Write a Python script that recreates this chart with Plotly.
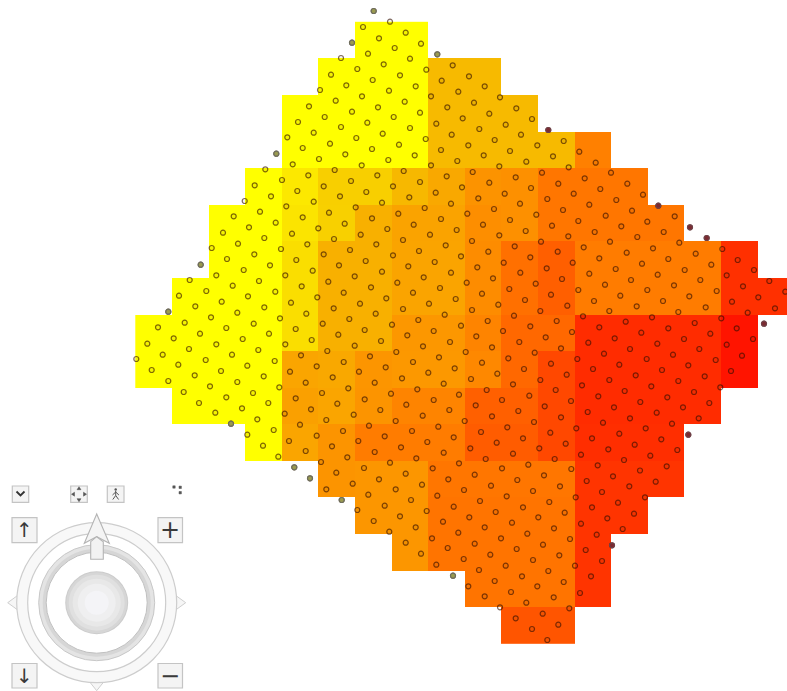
import plotly.graph_objects as go

N = None
Y = 255
col_centers = [153.6 + 36.6 * i for i in range(18)]
row_centers = [40.1 + 36.6 * i for i in range(17)]

shade_rows = [
    [N,N,N,N,N,N,Y,Y,N,N,N,N,N,N,N,N,N,N],
    [N,N,N,N,N,Y,Y,Y,186,186,N,N,N,N,N,N,N,N],
    [N,N,N,N,Y,Y,Y,Y,186,186,186,N,N,N,N,N,N,N],
    [N,N,N,N,Y,Y,Y,Y,186,186,186,186,128,N,N,N,N,N],
    [N,N,N,Y,232,207,207,184,168,147,144,118,118,118,N,N,N,N],
    [N,N,Y,Y,228,208,176,163,163,142,144,118,118,118,118,N,N,N],
    [N,N,Y,Y,222,176,176,164,164,140,112,95,124,124,124,124,48,N],
    [N,Y,Y,Y,222,176,176,164,164,140,112,95,124,124,124,124,48,48],
    [Y,Y,Y,Y,222,176,176,151,151,132,104,104,44,44,44,44,20,N],
    [Y,Y,Y,Y,165,168,149,152,152,136,104,72,44,44,44,44,20,N],
    [N,Y,Y,Y,160,165,148,132,132,96,96,72,44,44,44,44,N,N],
    [N,N,N,Y,165,148,124,124,124,92,92,72,46,46,46,N,N,N],
    [N,N,N,N,N,148,150,150,118,118,118,118,52,52,52,N,N,N],
    [N,N,N,N,N,N,150,150,116,116,116,116,52,52,N,N,N,N],
    [N,N,N,N,N,N,N,150,116,116,116,116,52,N,N,N,N,N],
    [N,N,N,N,N,N,N,N,N,116,116,116,52,N,N,N,N,N],
    [N,N,N,N,N,N,N,N,N,N,85,85,N,N,N,N,N,N],
]

sample_points = [
(373.7,11),(390,21.7),(363,27),(405.7,32.7),(379,38.3),(421,43.7),(352,42.7),(394.7,48),(368,53.7),(437.3,54.3),
(341,58),(410,58.7),(383.7,64.3),(452.7,65.3),(357.3,69),(426.3,69.7),(331,74.7),(400,75.3),(372.7,80),(441.7,80.7),
(346.3,85.3),(415.7,86.3),(320,90),(389,90.7),(458.3,91.7),(362,96.3),(431,96.3),(335.7,100.7),(404.7,101.7),(309,106.3),
(378,107.3),(447.3,107.3),(352,111.7),(420,112.7),(324.7,117),(393.7,117),(298,122),(367.3,122.7),(436.3,123.7),(341,127),
(410,128),(313.7,132.7),(382.7,133.7),(451.7,134.7),(287.3,137.3),(356.3,138),(425.7,139),(330,143.7),(399,144.7),(302.7,148),
(372,149),(441,150),(276.3,153.7),(345.3,154.3),(414.7,155.3),(319,159),(388.3,160),(457.3,161),(292.7,164.3),(361.7,165.3),
(431,165.3),(265.3,169.3),(334.7,170),(403.7,171),(308.3,175.3),(377.3,175.3),(446.7,176.3),(282,180),(351,181),(420,182),
(254.7,185.3),(323.7,186.3),(393,186.3),(297.3,191),(366.3,192),(435.7,192.7),(271,196.3),(340,196.3),(409.3,197.3),(244.7,201),
(313.7,201.7),(382,202.7),(451,203.7),(286.3,206.3),(355.7,207.3),(424.7,208),(260,211.7),(329,212.7),(398.3,213.7),(233.7,216.3),
(302.7,217.3),(372,218.3),(441,219),(275.7,222.7),(344.7,223.7),(413.7,224.7),(249,227.3),(318.3,228.3),(387.3,229),(456.7,230),
(469,76.3),(484.7,86.3),(500,97.3),(474,102.7),(516.3,108.3),(489.3,113.7),(462.7,118.3),(532,119),(505.7,124.7),(479.3,129),
(548.3,130),(521,134.7),(494.7,140),(563.7,141),(468.3,145.3),(537.3,145.3),(579.3,151.7),(510,151),(483.7,155.3),(553,156.3),
(526.3,161.7),(595.7,162.7),(499.3,166.3),(568.7,167.3),(472.7,172),(542,172.7),(611,172.7),(515.7,177.3),(584.7,178.3),(489.3,182.7),
(558.3,183.7),(627.3,183.7),(462,187.3),(531,188),(600.3,189),(504.7,193.7),(573.7,193.7),(643,194.7),(478.3,198.3),(547.3,199),
(616.3,200),(520,203.7),(589.3,204.7),(658.3,205.7),(494,209),(563,210),(632,210.7),(467.3,213.7),(536.3,214.7),(605.7,215.7),
(674.7,216.3),(510,220),(578.3,221),(647.3,221.7),(483,224.7),(552,225.7),(621.3,226.3),(690,227.3),
(223,232.7),(292,233.7),(360.7,234.7),(430,234.7),(264.3,238),(334,239),(403,240),(238,243.7),(307.3,244.3),(376.3,244.3),
(445.7,245.3),(211.7,248),(281,249),(350,250),(419,251),(254.3,254.3),(323.7,254.3),(393,255.3),(227,259),(296.3,260),
(365.7,261),(434.7,262),(200.7,264.7),(270,265.3),(339,265.3),(408.3,266.3),(243.7,270),(312.7,270.7),(382,271.7),(451,272.7),
(216.3,275.3),(285.3,275.3),(354.7,276.3),(423.7,277.3),(189.7,280),(259,281),(328.3,281.7),(397.3,282.7),(232.7,285.7),(301.7,286.3),
(371,287.3),(440,288),(206.3,291),(275.3,291.7),(343.7,292.7),(413,292.7),(179,295.7),(248,296.3),(317.3,297.3),(386.3,298.3),
(455.7,299),(221.7,301.7),(291,302.7),(360,303.7),(429,303.7),(195.3,306.3),(264.3,307.3),(333.7,308.3),(403,309),(168.3,311.7),
(237.3,312.7),(306.3,313.7),(375.7,313.7),(444.7,314.7),(211,317.3),(280,318.3),(349.3,319),(418.3,320),(184.7,322.7),(253.7,323.7),
(322.7,323.7),(392,324.7),(158,327.3),(226.3,328),(295.7,329),(364.7,330),(433.7,331),(200,333.7),(269,333.7),(338.3,334.7),
(407.3,335.3),(173.7,338.3),(242.7,339),(311.7,340),(381,341),(450,342),(147.3,343.7),(216.3,344.3),(285.3,344.3),(354.7,345.7),
(423,346.3),(189,349),(258.3,350),(327.3,351),(396.3,352),(162.7,354.7),(232,354.7),(301,355.3),(370,356.3),(439,357.3),
(136.3,359),(205.7,360),(274.7,361),(343.7,362),(413,362),(178.3,364.7),(247.3,365.7),(316.7,366.3),(385.7,367.3),(454.7,368.3),
(151.7,370),(221,371),(290,371.7),(359,371.7),(428.3,372.7),(194.7,375.3),(263.7,376.3),(332.7,377.3),(402,378.3),(168.3,381),
(237.3,382),(305.7,382.7),(374.7,382.7),(443.7,383.7),(210,386.3),(279.3,387.3),(348.3,388.3),(417.3,389.3),(183.7,392),(253,393),
(322,393),(391,393.7),(459,394.7),(226.3,397.3),(295.7,398.3),(364.7,399.3),(433.7,400),(199,403),(268.3,403),(337.3,403.7),
(406.3,404.7),(242,408.3),(311,409.3),(380.3,410),(449.3,410),(215.3,412.7),(284.7,413.7),(353.7,414.7),(422.7,415.7),(257.3,419.3),
(326.3,420),(395.7,421),(231,423.7),(300,424.7),(369,425.7),(438.3,426.7),(273.7,430),(343,431),(412,431),(247.3,434.7),
(316.7,435.7),(384.7,436.3),(453.7,437.3),(289,441),(358.3,441),(427.3,442),(263,445.7),(332,446.3),(401,447.3),(305.7,451),
(374.7,452),(443.7,452.7),(278.3,456.7),(347.3,457.3),(416.3,458.3),(321,462),(390,462.7),(459,463.3),(294.3,467.3),(364,468),(432.7,468.3),
(499.3,235.3),(525.7,231),(568.3,236.3),(594.7,232),(637.3,237),(663.7,232),(706.7,238),(472,241),(541,241.7),(610,241.7),
(679.3,242.7),(514.7,246.3),(583.7,247.3),(653,248.3),(722.3,249),(557.7,251.7),(626.7,252.7),(488.3,251.7),(695.7,253.7),(461,256.3),
(530.3,257.3),(599.3,258.3),(668.3,259),(737.7,260),(503.7,262.7),(572.7,262.7),(642,263.7),(711.3,264.7),(477.3,267.3),(546.7,268.3),
(615.7,269),(684.7,270),(754,270),(520.3,272.7),(589.3,273.7),(657.7,274.7),(726.7,275.3),(493,278.3),(562,279),(631,280),
(700.3,280),(769.3,281),(466.7,282.7),(535.7,283.7),(605,284.7),(674,285.3),(743,286.3),(509.3,289),(578.3,290),(647.3,290),
(716.7,291),(785.3,291.7),(482,293.7),(551,294.7),(620.3,295.7),(689.3,296.3),(758.3,297.3),(525,300),(594,301),(663,301),
(732,301.7),(498.3,304.7),(567.3,305.7),(636.7,306.3),(705.7,307.3),(775,308.3),(472,310),(540.3,311),(609.3,311),(678.3,312),
(747.7,312.7),(514,315.7),(583,316.3),(652,317.3),(721.3,318.3),(487.7,321),(556.7,321),(625.7,321.7),(694.7,323),(764,323.7),
(461,325.7),(530.3,326.3),(599.3,327.3),(668.3,328.3),(736.7,328.3),(503,331),(572,332),(641.3,332.7),(710.3,333.7),(476.3,336.3),
(545.7,337.3),(614.7,338.3),(684,339),(753,339),(519.3,342),(588.3,342.7),(657.3,343.7),(726.7,344.7),(492,347.3),(561,348.3),
(630,349),(699.3,349),(465.7,352),(534.7,352.7),(604,353.7),(673,354.7),(742,355.7),(508.3,358.3),(577.3,359),(646.7,359),
(715.7,360),(482,362.7),(551,363.7),(619.3,364.7),(688.3,365.3),(524,369),(593,369),(662,370),(731,371),(497.3,373.7),
(566.7,374.7),(635.7,375.3),(704.7,376.3),(471,379),(540.3,380),(609.3,380),(678.3,381),(513,384.3),(582,385.3),(651.3,386.3),
(720.3,387.3),(486.7,390),(555.7,390),(624.7,391),(694,392),(529.3,395.7),(598.3,396.3),(667.3,397.3),(502,400),(571,401),
(640.3,402),(709.3,403),(475.7,405.3),(544.7,406.3),(614,407.3),(683,407.3),(518.3,411),(587.7,412),(656.7,412.7),(492,416.3),
(561,417.3),(630,418.3),(698.7,418.3),(464.7,421),(534,422),(603,422.7),(672,423.7),(507.3,427.3),(576.3,428.3),(645.7,428.3),
(481,432),(550.3,432.7),(619.3,433.7),(688.3,434.7),(523,438.3),(592,438.3),(661.3,439.3),(496.7,442.7),(565.7,443.7),(634.7,444.7),
(470.3,448.3),(539.3,448.3),(608.3,449.3),(677.3,450),(513,453.7),(581,454.7),(650.3,455.7),(485.7,459),(554.7,459),(624,460),
(528.3,464.7),(597.7,465.3),(666.7,466.3),(502,468.3),(571.3,469),(640,470.5),
(310,478.3),(336.3,472.7),(405.7,473.7),(474.7,474.7),(544,475.3),(613,476.3),(352.7,483.7),(422,484.7),(491,485.7),(560,486.3),
(379,479.3),(448.3,479.3),(517.3,480),(586.7,481),(326.3,489.3),(395.7,489.3),(464,490),(533,491),(602,492),(368.3,494.7),
(437.3,495.7),(506.7,496.3),(575.7,497.3),(341.7,500),(411,500),(480,501),(549.3,502),(618,502.7),(384.7,505.7),(453.7,506.7),
(523,507.3),(592,507.3),(357.3,510),(426.7,511),(495.7,512),(564.7,512.7),(400,516.3),(469.3,517.3),(538.3,517.3),(607.3,518.3),
(373.7,521),(443,521.7),(512,522.7),(581,523.7),(415.7,527.3),(484.7,527.3),(554,528.3),(389.3,531.7),(458.3,532.7),(527.3,533.7),
(596.7,534.7),(432,538.3),(501,538.3),(570,539),(474.7,543.7),(543,544.7),(612,545.3),(405.7,542.7),(447.7,548),(516.7,549),
(585.7,550),(421,553.7),(490.3,554.7),(559.3,555.3),(463.7,559),(533,560),(602,561),(436.3,564.7),(505.7,565.7),(575,565.7),
(479,570),(548.3,571),(453,575.7),(522,576.3),(591,576.3),(494.7,581),(563.7,582),(468.3,586.3),(537.3,586.3),(511,592),
(580,593),(484.7,596.3),(553.7,597.3),(526.3,602.7),(500,607.3),(569.3,608.3),(542.7,613.7),(515.7,618.3),(558.3,624.7),(532,629),(547.3,640),
(655.7,481.7),(629.3,486.3),(645,497.3),(634,513.7),(622.7,529),
]
point_x = [p[0] for p in sample_points]
point_y = [p[1] for p in sample_points]

# points that fall outside the shaded cells, on the yellow side and on the red side
outside_left = [(373.7,11),(352,42.7),(437.3,54.3),(276.3,153.7),(200.7,264.7),(168.3,311.7),(231,423.7),(294.3,467.3),(310,478.3),(341.7,500),(453,575.7)]
outside_right = [(548.3,130),(658.3,205.7),(690,227.3),(706.7,238),(764,323.7),(688.3,434.7),(612,545.3)]

fig = go.Figure()
fig.add_trace(go.Heatmap(
    x=col_centers, y=row_centers, z=shade_rows, zmin=0, zmax=255, showscale=False, hoverinfo="skip",
    colorscale=[[0, "#FF0000"], [128/255, "#FF8000"], [190/255, "#F6BE00"], [1, "#FFFF00"]],
))
fig.add_trace(go.Scatter(
    x=point_x, y=point_y, mode="markers", hoverinfo="skip",
    marker=dict(size=5, color="rgba(60,45,0,0.06)", line=dict(color="rgba(50,15,0,0.62)", width=1.2)),
))
fig.add_trace(go.Scatter(
    x=[p[0] for p in outside_left], y=[p[1] for p in outside_left], mode="markers", hoverinfo="skip",
    marker=dict(size=5, color="#9a9a50", line=dict(color="#6e6e5c", width=1.2)),
))
fig.add_trace(go.Scatter(
    x=[p[0] for p in outside_right], y=[p[1] for p in outside_right], mode="markers", hoverinfo="skip",
    marker=dict(size=5, color="#7c2a30", line=dict(color="#704048", width=1.2)),
))

shapes = []
def circle(cx, cy, r, fill, line="rgba(0,0,0,0)", w=1):
    shapes.append(dict(type="circle", xref="x", yref="y", x0=cx-r, x1=cx+r, y0=cy-r, y1=cy+r,
                       fillcolor=fill, line=dict(color=line, width=w), layer="above"))
def rect(x0, y0, x1, y1, fill="#f4f4f4", line="#c4c4c4", w=1.2):
    shapes.append(dict(type="rect", xref="x", yref="y", x0=x0, x1=x1, y0=y0, y1=y1,
                       fillcolor=fill, line=dict(color=line, width=w), layer="above"))
def path(d, fill="rgba(0,0,0,0)", line="#cfcfcf", w=1):
    shapes.append(dict(type="path", xref="x", yref="y", path=d, fillcolor=fill,
                       line=dict(color=line, width=w), layer="above"))

cx, cy = 96.7, 602.7
# compass points behind the outer ring
path(f"M {cx-78},{cy-8} L {cx-89},{cy} L {cx-78},{cy+8} Z", "#f6f6f6")
path(f"M {cx+78},{cy-8} L {cx+89},{cy} L {cx+78},{cy+8} Z", "#f6f6f6")
path(f"M {cx-8},{cy+78} L {cx},{cy+88} L {cx+8},{cy+78} Z", "#f6f6f6")
circle(cx, cy, 80, "#f8f8f8", "#cdcdcd", 1.2)
circle(cx, cy, 69, "#ffffff", "#cdcdcd", 1.2)
circle(cx, cy, 58, "#e4e4e4", "#c8c8c8", 1)
circle(cx, cy, 54, "#d6d6d6", "rgba(0,0,0,0)")
circle(cx, cy, 50.5, "#ffffff", "#c0c0c0", 1)
for r, col in [(31.5, "#cccccc"), (30.5, "#d6d6d6"), (28, "#e0e0e0"), (24, "#e8e8e8"), (19, "#efeff0"), (12, "#f4f4f7")]:
    circle(cx, cy, r, col)
# north arrow
path("M 96.7,514 L 84.3,543.3 L 96.7,536.7 L 109.3,543.3 Z", "#f4f4f4", "#b4b4b4", 1.1)
path("M 90.7,559.3 L 103.3,559.3 L 103.3,541.7 L 96.7,536.7 L 90.7,541.7 Z", "#f2f2f2", "#b4b4b4", 1.1)
# buttons
rect(12.3, 486, 28.7, 502.3)
rect(70.7, 486, 87.3, 502.3)
rect(107.3, 486, 124, 502.3)
rect(12, 517.7, 37, 542.7)
rect(158, 517.7, 182.5, 542.7)
rect(12, 663.5, 37, 688)
rect(158, 663.5, 182.5, 688)
path("M 16.5,491.5 L 20.5,495.5 L 24.5,491.5", line="#333333", w=1.8)
# fit-view arrows
for dx, dy, d in [(0,-5.5,"u"),(0,5.5,"d"),(-5.5,0,"l"),(5.5,0,"r")]:
    x, y = 79+dx, 494.2+dy
    t = {"u":f"M {x-2},{y+1} L {x},{y-2} L {x+2},{y+1} Z","d":f"M {x-2},{y-1} L {x},{y+2} L {x+2},{y-1} Z",
         "l":f"M {x+1},{y-2} L {x-2},{y} L {x+1},{y+2} Z","r":f"M {x-1},{y-2} L {x+2},{y} L {x-1},{y+2} Z"}[d]
    path(t, "#555555", "#555555", 0.5)
# walker icon
circle(115.7, 489.5, 1.2, "#555555")
path("M 115.7,491 L 115.7,495.5 M 115.7,495.5 L 112.8,499.5 M 115.7,495.5 L 118.6,499.5 M 115.7,492 L 112.5,495 M 115.7,492 L 118.9,495", line="#555555", w=1)
# dots
for x, y in [(174, 487), (180.2, 487.3), (180.2, 492.7)]:
    rect(x-1.2, y-1.2, x+1.2, y+1.2, "#555555", "#555555", 0.5)

ann = []
for txt, x, y, size in [("↑", 24.5, 530, 20), ("+", 170.2, 530, 24), ("↓", 24.5, 675.7, 20), ("−", 170.2, 675.7, 24)]:
    ann.append(dict(text=txt, x=x, y=y, xref="x", yref="y", showarrow=False, xanchor="center", yanchor="middle",
                    font=dict(family="DejaVu Sans", size=size, color="#3a3a3a")))

fig.update_layout(
    width=787, height=691, margin=dict(l=0, r=0, t=0, b=0), autosize=False,
    paper_bgcolor="white", plot_bgcolor="white", showlegend=False,
    xaxis=dict(range=[0, 787], visible=False, fixedrange=True),
    yaxis=dict(range=[691, 0], visible=False, fixedrange=True),
    shapes=shapes, annotations=ann,
)
fig.write_html("out.html", config={"displayModeBar": False},
               post_script="document.body.style.margin='0';document.documentElement.style.overflow='hidden';")
